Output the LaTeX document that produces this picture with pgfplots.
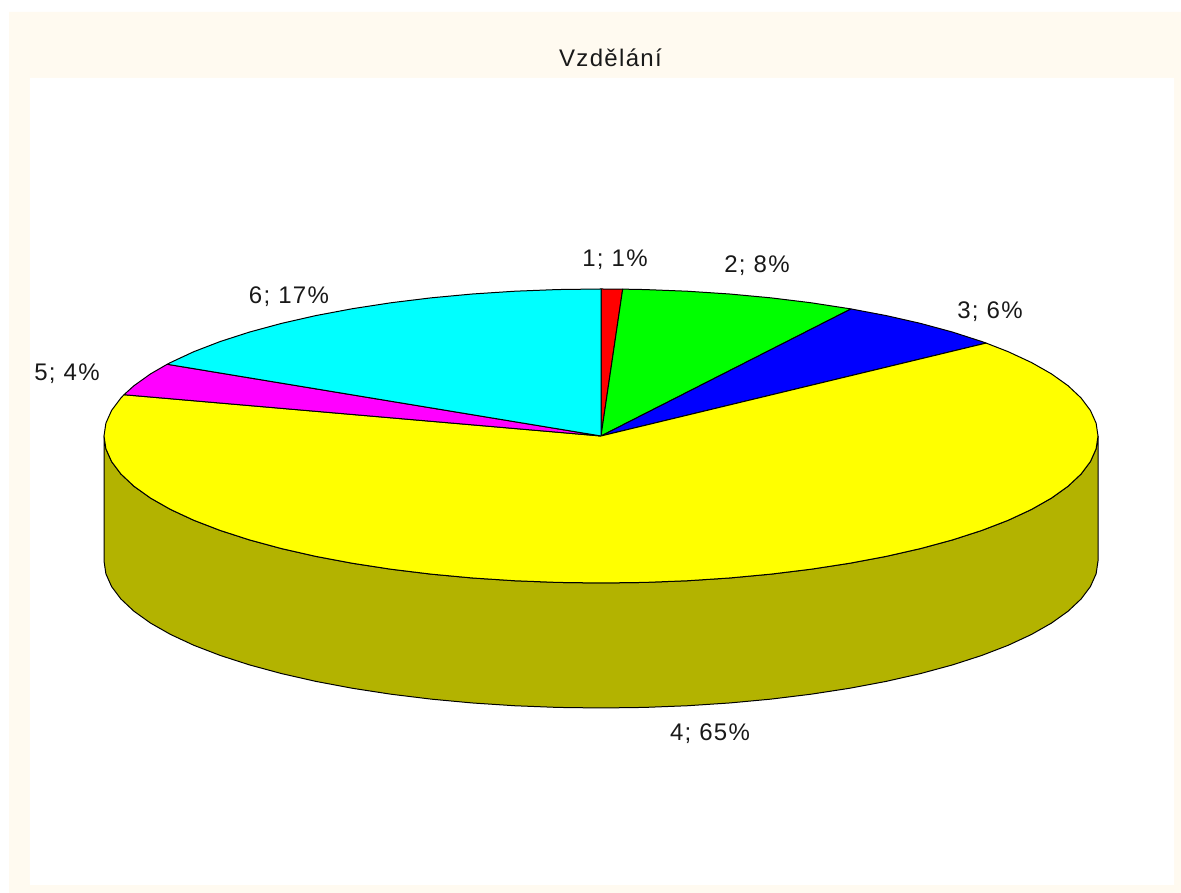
\documentclass[border=0pt]{standalone}
\usepackage{pgfplots}
\usepackage{fontspec}
\pgfplotsset{compat=1.18}
\setmainfont{Liberation Sans}[LetterSpace=5.5]

\definecolor{panel}{RGB}{255,250,240}
\definecolor{olive3d}{RGB}{179,179,0}
\definecolor{sliceR}{RGB}{255,0,0}
\definecolor{sliceG}{RGB}{0,255,0}
\definecolor{sliceB}{RGB}{0,0,255}
\definecolor{sliceY}{RGB}{255,255,0}
\definecolor{sliceM}{RGB}{255,0,255}
\definecolor{sliceC}{RGB}{0,255,255}

% unit coordinates: x = sin(t), y = cos(t) on the top ellipse; t runs clockwise from 12 o'clock
% wedge shares: 0.7, 7.7, 5.7, 65.4, 3.6, 16.9 %
\begin{document}
\begin{tikzpicture}
  \begin{axis}[
      hide axis, scale only axis, width=885.75pt, height=669.75pt,
      xmin=-1.20926, xmax=1.16700, ymin=-3.10884, ymax=2.96599,
      clip=false]
    \tikzset{lbl/.style={font=\fontsize{18}{20}\selectfont, text=black!90, inner sep=0pt}}
    \pgfplotsset{wedge/.style={draw=black, line width=0.75pt, line join=round, fill=#1}}

    % page and panel
    \addplot[fill=white, draw=none] coordinates {(-1.20926,-3.10884) (1.167,-3.10884) (1.167,2.96599) (-1.20926,2.96599) (-1.20926,-3.10884)};
    \addplot[fill=panel, draw=none] coordinates {(-1.1911,-3.10884) (1.167,-3.10884) (1.167,2.8844) (-1.1911,2.8844) (-1.1911,-3.10884)};
    \addplot[fill=white, draw=none] coordinates {(-1.1489,-3.0544) (1.1529,-3.0544) (1.1529,2.4354) (-1.1489,2.4354) (-1.1489,-3.0544)};

    % side of the yellow wedge
    \addplot[wedge=olive3d] coordinates {
      (1,0) (.9962,-.0872) (.9848,-.1736) (.9659,-.2588) (.9397,-.3420) (.9063,-.4226) (.8660,-.5)
      (.8192,-.5736) (.7660,-.6428) (.7071,-.7071) (.6428,-.7660) (.5736,-.8192) (.5,-.8660)
      (.4226,-.9063) (.3420,-.9397) (.2588,-.9659) (.1736,-.9848) (.0872,-.9962) (0,-1)
      (-.0872,-.9962) (-.1736,-.9848) (-.2588,-.9659) (-.3420,-.9397) (-.4226,-.9063) (-.5,-.8660)
      (-.5736,-.8192) (-.6428,-.7660) (-.7071,-.7071) (-.7660,-.6428) (-.8192,-.5736) (-.8660,-.5)
      (-.9063,-.4226) (-.9397,-.3420) (-.9659,-.2588) (-.9848,-.1736) (-.9962,-.0872) (-1,0)
      (-1,-.8503) (-.9962,-.9375) (-.9848,-1.0239) (-.9659,-1.1091) (-.9397,-1.1923) (-.9063,-1.2729)
      (-.8660,-1.3503) (-.8192,-1.4239) (-.7660,-1.4931) (-.7071,-1.5574) (-.6428,-1.6163)
      (-.5736,-1.6695) (-.5,-1.7163) (-.4226,-1.7566) (-.3420,-1.7900) (-.2588,-1.8162)
      (-.1736,-1.8351) (-.0872,-1.8465) (0,-1.8503)
      (.0872,-1.8465) (.1736,-1.8351) (.2588,-1.8162) (.3420,-1.7900) (.4226,-1.7566) (.5,-1.7163)
      (.5736,-1.6695) (.6428,-1.6163) (.7071,-1.5574) (.7660,-1.4931) (.8192,-1.4239) (.8660,-1.3503)
      (.9063,-1.2729) (.9397,-1.1923) (.9659,-1.1091) (.9848,-1.0239) (.9962,-.9375) (1,-.8503) (1,0)};

    % top face
    \addplot[wedge=sliceR] coordinates {(0,0) (0,1) (.0436,.9990) (0,0)};
    \addplot[wedge=sliceG] coordinates {(0,0) (.0436,.9990) (.0872,.9962) (.1736,.9848) (.2588,.9659)
      (.3420,.9397) (.4226,.9063) (.5030,.8643) (0,0)};
    \addplot[wedge=sliceB] coordinates {(0,0) (.5030,.8643) (.5736,.8192) (.6428,.7660) (.7071,.7071)
      (.7660,.6428) (.7749,.6320) (0,0)};
    \addplot[wedge=sliceY] coordinates {(0,0) (.7749,.6320) (.8192,.5736) (.8660,.5) (.9063,.4226)
      (.9397,.3420) (.9659,.2588) (.9848,.1736) (.9962,.0872) (1,0)
      (.9962,-.0872) (.9848,-.1736) (.9659,-.2588) (.9397,-.3420) (.9063,-.4226) (.8660,-.5)
      (.8192,-.5736) (.7660,-.6428) (.7071,-.7071) (.6428,-.7660) (.5736,-.8192) (.5,-.8660)
      (.4226,-.9063) (.3420,-.9397) (.2588,-.9659) (.1736,-.9848) (.0872,-.9962) (0,-1)
      (-.0872,-.9962) (-.1736,-.9848) (-.2588,-.9659) (-.3420,-.9397) (-.4226,-.9063) (-.5,-.8660)
      (-.5736,-.8192) (-.6428,-.7660) (-.7071,-.7071) (-.7660,-.6428) (-.8192,-.5736) (-.8660,-.5)
      (-.9063,-.4226) (-.9397,-.3420) (-.9659,-.2588) (-.9848,-.1736) (-.9962,-.0872) (-1,0)
      (-.9962,.0872) (-.9848,.1736) (-.9659,.2588) (-.9598,.2807) (0,0)};
    \addplot[wedge=sliceM] coordinates {(0,0) (-.9598,.2807) (-.9397,.3420) (-.9063,.4226) (-.8729,.4879) (0,0)};
    \addplot[wedge=sliceC] coordinates {(0,0) (-.8729,.4879) (-.8660,.5) (-.8192,.5736) (-.7660,.6428)
      (-.7071,.7071) (-.6428,.7660) (-.5736,.8192) (-.5,.8660) (-.4226,.9063) (-.3420,.9397)
      (-.2588,.9659) (-.1736,.9848) (-.0872,.9962) (0,1) (0,0)};

    % labels
    \node[lbl] at (axis cs:.0191,2.5714) {Vzdělání};
    \node[lbl] at (axis cs:.0282,1.1973) {1; 1\%};
    \node[lbl] at (axis cs:.3139,1.1565) {2; 8\%};
    \node[lbl] at (axis cs:.7827,.8435) {3; 6\%};
    \node[lbl] at (axis cs:.2193,-2.0272) {4; 65\%};
    \node[lbl] at (axis cs:-1.0745,.4218) {5; 4\%};
    \node[lbl] at (axis cs:-.6278,.9456) {6; 17\%};
  \end{axis}
\end{tikzpicture}
\end{document}
